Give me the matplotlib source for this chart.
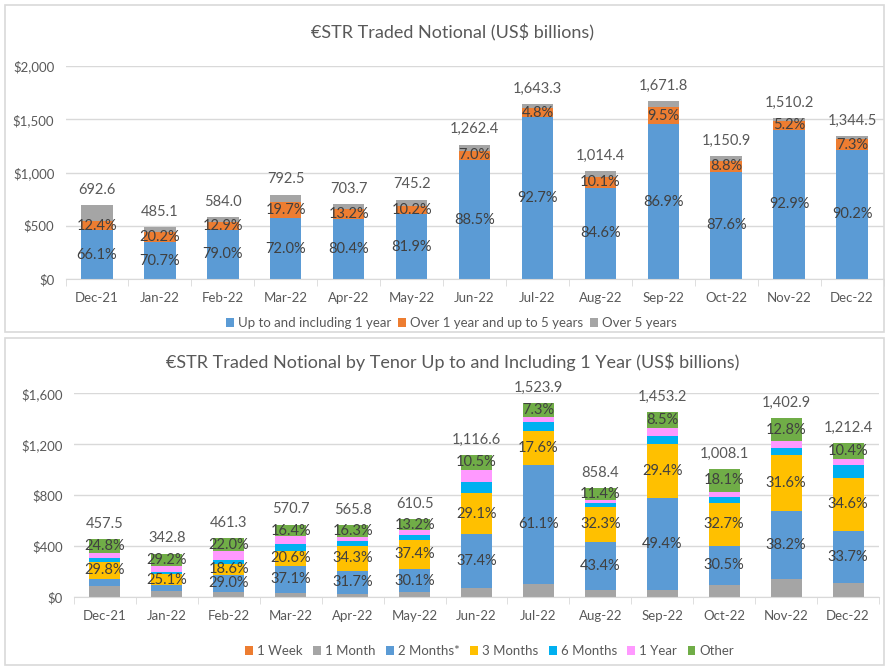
import matplotlib
matplotlib.use("Agg")
import matplotlib.pyplot as plt
import matplotlib.ticker as ticker
from matplotlib.patches import Rectangle
import numpy as np

# データ
months = ["Dec-21", "Jan-22", "Feb-22", "Mar-22", "Apr-22", "May-22", "Jun-22",
          "Jul-22", "Aug-22", "Sep-22", "Oct-22", "Nov-22", "Dec-22"]

# 上段: 合計と構成比 (%)
top_total = [692.6, 485.1, 584.0, 792.5, 703.7, 745.2, 1262.4,
             1643.3, 1014.4, 1671.8, 1150.9, 1510.2, 1344.5]
top_upto1y = [66.1, 70.7, 79.0, 72.0, 80.4, 81.9, 88.5, 92.7, 84.6, 86.9, 87.6, 92.9, 90.2]
top_1to5y = [12.4, 20.2, 12.9, 19.7, 13.2, 10.2, 7.0, 4.8, 10.1, 9.5, 8.8, 5.2, 7.3]
top_over5y = [21.5, 9.1, 8.1, 8.3, 6.4, 7.9, 4.5, 2.5, 5.3, 3.6, 3.6, 1.9, 2.5]

# 下段: 合計と構成比 (%)
bot_total = [457.5, 342.8, 461.3, 570.7, 565.8, 610.5, 1116.6,
             1523.9, 858.4, 1453.2, 1008.1, 1402.9, 1212.4]
bot_1w = [0.0, 0.0, 0.0, 0.0, 0.0, 0.0, 0.0, 0.0, 0.0, 0.0, 0.0, 0.0, 0.0]
bot_1m = [19.7, 13.3, 9.1, 6.5, 5.2, 6.5, 6.8, 7.1, 7.0, 4.2, 9.8, 10.0, 9.1]
bot_2m = [11.5, 14.5, 29.0, 37.1, 31.7, 30.1, 37.4, 61.1, 43.4, 49.4, 30.5, 38.2, 33.7]
bot_3m = [29.8, 25.1, 18.6, 20.6, 34.3, 37.4, 29.1, 17.6, 32.3, 29.4, 32.7, 31.6, 34.6]
bot_6m = [7.0, 5.5, 7.0, 8.4, 7.5, 5.6, 7.5, 4.3, 3.4, 4.3, 5.0, 3.7, 8.3]
bot_1y = [7.2, 12.4, 14.3, 11.0, 5.0, 7.2, 8.7, 2.6, 2.5, 4.2, 3.9, 3.7, 3.9]
bot_other = [24.8, 29.2, 22.0, 16.4, 16.3, 13.2, 10.5, 7.3, 11.4, 8.5, 18.1, 12.8, 10.4]

# 色 (Excel 標準)
C_BLUE = "#5B9BD5"
C_ORANGE = "#ED7D31"
C_GRAY = "#A5A5A5"
C_GOLD = "#FFC000"
C_SKY = "#00B0F0"
C_PINK = "#FF99FF"
C_GREEN = "#70AD47"
TXT = "#595959"
LBL = "#404040"
GRID = "#D9D9D9"

plt.rcParams["font.family"] = ["Lato", "DejaVu Sans"]


def style_axes(ax, ymax, ystep):
    n = len(months)
    ax.set_xlim(-0.5, n - 0.5)
    ax.set_ylim(0, ymax)
    ax.yaxis.set_major_locator(ticker.MultipleLocator(ystep))
    ax.yaxis.set_major_formatter(ticker.FuncFormatter(lambda v, p: f"${v:,.0f}"))
    ax.grid(axis="y", color=GRID, linewidth=1)
    ax.set_axisbelow(True)
    for s in ["top", "right", "left"]:
        ax.spines[s].set_visible(False)
    ax.spines["bottom"].set_color(GRID)
    ax.set_xticks(range(n))
    ax.set_xticklabels(months)
    ax.set_xticks(np.arange(-0.5, n, 1), minor=True)
    ax.tick_params(axis="x", which="major", length=0, pad=9, labelsize=9.5, labelcolor=TXT)
    ax.tick_params(axis="x", which="minor", length=5, color=GRID)
    ax.tick_params(axis="y", length=0, labelsize=9.5, labelcolor=TXT, pad=8)


def stack(ax, totals, parts, colors, names, label_flags):
    x = np.arange(len(months))
    bottom = np.zeros(len(months))
    for pct, col, name, lab in zip(parts, colors, names, label_flags):
        h = np.array(totals) * np.array(pct) / 100.0
        ax.bar(x, h, 0.5, bottom=bottom, color=col, label=name)
        if lab:
            for i in range(len(months)):
                if pct[i] >= 15 or lab == "all":
                    ax.text(x[i], bottom[i] + h[i] / 2, f"{pct[i]:.1f}%",
                            ha="center", va="center", fontsize=10.5, color=LBL)
        bottom = bottom + h
    for i, t in enumerate(totals):
        ax.annotate(f"{t:,.1f}", (x[i], t), xytext=(0, 11), textcoords="offset points",
                    ha="center", va="center", fontsize=10.5, color=TXT)


fig = plt.figure(figsize=(8.85, 6.7), dpi=100)

# パネル枠
fig.patches.append(Rectangle((5 / 885, 338 / 670), 0.999 - 5 / 885, 1 - 5 / 670 - 338 / 670,
                             transform=fig.transFigure, fill=False, edgecolor=GRID, linewidth=1.2))
fig.patches.append(Rectangle((5 / 885, 5 / 670), 0.999 - 5 / 885, 332 / 670 - 5 / 670,
                             transform=fig.transFigure, fill=False, edgecolor=GRID, linewidth=1.2))

# 上段
ax1 = fig.add_axes([65.5 / 885, 391 / 670, 818 / 885, 213 / 670])
style_axes(ax1, 2000, 500)
stack(ax1, top_total, [top_upto1y, top_1to5y, top_over5y],
      [C_BLUE, C_ORANGE, C_GRAY],
      ["Up to and including 1 year", "Over 1 year and up to 5 years", "Over 5 years"],
      ["all", "all", None])
fig.text(0.511, 1 - 33 / 670, "€STR Traded Notional (US$ billions)", ha="center", va="center",
         fontsize=13, color=TXT)
fig.legend(*ax1.get_legend_handles_labels(), loc="center", bbox_to_anchor=(0.51, 1 - 323 / 670),
           ncol=3, frameon=False, fontsize=9.5, handlelength=0.6, handleheight=0.6,
           handletextpad=0.3, columnspacing=0.5, labelcolor=TXT)

# 下段
ax2 = fig.add_axes([74 / 885, 72.7 / 670, 805 / 885, 204 / 670])
style_axes(ax2, 1600, 400)
stack(ax2, bot_total, [bot_1w, bot_1m, bot_2m, bot_3m, bot_6m, bot_1y, bot_other],
      [C_ORANGE, C_GRAY, C_BLUE, C_GOLD, C_SKY, C_PINK, C_GREEN],
      ["1 Week", "1 Month", "2 Months*", "3 Months", "6 Months", "1 Year", "Other"],
      [None, None, "big", "all", None, None, "all"])
fig.text(0.511, 1 - 362 / 670, "€STR Traded Notional by Tenor Up to and Including 1 Year (US$ billions)",
         ha="center", va="center", fontsize=13, color=TXT)
fig.legend(*ax2.get_legend_handles_labels(), loc="center", bbox_to_anchor=(0.553, 1 - 651 / 670),
           ncol=7, frameon=False, fontsize=9.5, handlelength=0.6, handleheight=0.6,
           handletextpad=0.3, columnspacing=0.8, labelcolor=TXT)

fig.savefig("out.png", dpi=100)
